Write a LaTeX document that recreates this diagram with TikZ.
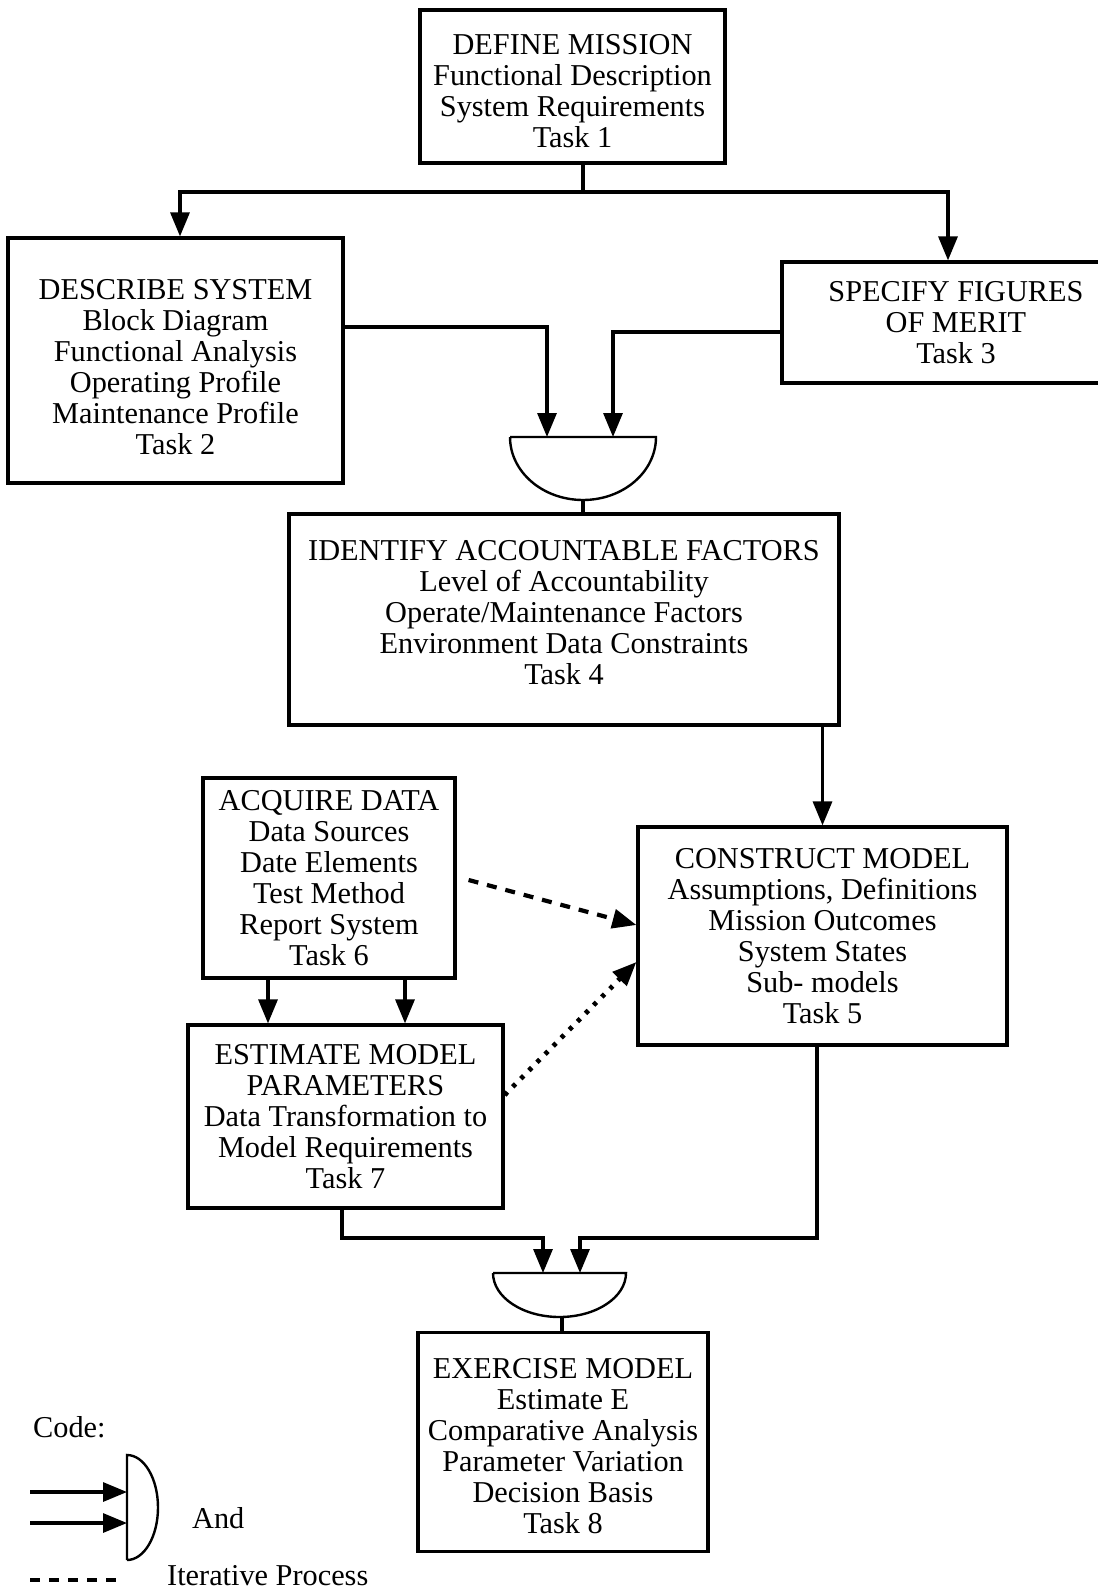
\documentclass[tikz,border=0pt]{standalone}
\usepackage{fontspec}
\setmainfont{Liberation Serif}
\usetikzlibrary{arrows.meta}
\newcommand\topstrut[1]{\rule{0pt}{#1}}
\newcommand\botstrut[1]{\rule[-#1]{0pt}{#1}}
\begin{document}
\begin{tikzpicture}[x=1pt,y=-1pt,
  box/.style={draw, line width=3.2pt, inner sep=0pt, align=center, font=\fontsize{30.3}{31}\selectfont},
  conn/.style={line width=3.2pt},
  tip/.style={-{Triangle[length=24pt,width=19pt]}},
  arr/.style={conn, tip},
  dashline/.style={line width=4.2pt, dash pattern=on 10pt off 9pt},
  dotline/.style={line width=4.8pt, dash pattern=on 4pt off 7.5pt},
  gate/.style={line width=2.4pt},
  lbl/.style={font=\fontsize{30.3}{31}\selectfont, inner sep=0pt}]
\useasboundingbox (0,0) rectangle (1097,1589);

% boxes
\node[box, minimum width=305pt, minimum height=153pt] (dm) at (572.5,86.5)
  {\topstrut{30pt}DEFINE MISSION\\Functional Description\\System Requirements\\Task 1};
\node[box, minimum width=335pt, minimum height=245pt] (ds) at (175.5,360.5)
  {\topstrut{33pt}DESCRIBE SYSTEM\\Block Diagram\\Functional Analysis\\Operating Profile\\Maintenance Profile\\Task 2};
\node[box, minimum width=348pt, minimum height=121pt] (sf) at (956,322.5)
  {SPECIFY FIGURES\\OF MERIT\\Task 3};
\node[box, minimum width=550pt, minimum height=211pt] (id) at (564,619.5)
  {IDENTIFY ACCOUNTABLE FACTORS\\Level of Accountability\\Operate/Maintenance Factors\\Environment Data Constraints\\Task 4\botstrut{15pt}};
\node[box, minimum width=252pt, minimum height=200pt] (ad) at (329,878)
  {ACQUIRE DATA\\Data Sources\\Date Elements\\Test Method\\Report System\\Task 6};
\node[box, minimum width=369pt, minimum height=218pt] (cm) at (822.5,936)
  {CONSTRUCT MODEL\\Assumptions, Definitions\\Mission Outcomes\\System States\\Sub- models\\Task 5};
\node[box, minimum width=315pt, minimum height=183pt] (em) at (345.5,1116.5)
  {ESTIMATE MODEL\\PARAMETERS\\Data Transformation to\\Model Requirements\\Task 7};
\node[box, minimum width=290pt, minimum height=219pt] (ex) at (563,1442)
  {\topstrut{28pt}EXERCISE MODEL\\Estimate E\\Comparative Analysis\\Parameter Variation\\Decision Basis\\Task 8};

% AND gates
\coordinate (g1l) at (547,437);
\coordinate (g1r) at (613,437);
\coordinate (g1b) at (583,500);
\draw[gate] (510,437) -- (656,437) arc[start angle=0, end angle=180, x radius=73, y radius=63];
\coordinate (g2l) at (543,1273);
\coordinate (g2r) at (580,1273);
\coordinate (g2b) at (562,1317);
\draw[gate] (493,1273) -- (626,1273) arc[start angle=0, end angle=180, x radius=66.5, y radius=44];

% connectors
\coordinate (j1) at (583,192);
\draw[conn] (dm.south -| j1) -- (j1);
\draw[arr] (j1) -| ([xshift=4.5pt]ds.north);
\draw[arr] (j1) -| ([xshift=-8pt]sf.north);
\draw[arr] ([yshift=33.5pt]ds.east) -| (g1l);
\draw[arr] ([yshift=-9.5pt]sf.west) -| (g1r);
\draw[conn] (g1b) -- (g1b |- id.north);
\draw[arr] (cm.north |- id.south) -- (cm.north);
\coordinate (a1) at ([xshift=-61pt]ad.south);
\coordinate (a2) at ([xshift=76pt]ad.south);
\draw[arr] (a1) -- (a1 |- em.north);
\draw[arr] (a2) -- (a2 |- em.north);
\draw[dashline, tip] ([xshift=12pt,yshift=-2pt]ad.east) -- ([yshift=11pt]cm.west);
\draw[dotline, tip] ([yshift=21.5pt]em.east) -- ([yshift=-26pt]cm.west);
\draw[arr] ([xshift=-3.5pt]em.south) |- ([yshift=35pt]g2l) -- (g2l);
\draw[arr] ([xshift=-5.5pt]cm.south) |- ([yshift=35pt]g2r) -- (g2r);
\draw[conn] (g2b) -- (g2b |- ex.north);

% legend
\node[lbl, anchor=base west] (code) at (33,1437) {Code:};
\draw[gate] (127,1560) -- (127,1455) arc[start angle=-90, end angle=90, x radius=31, y radius=52.5];
\coordinate (ls1) at (30,1492);
\coordinate (le1) at (127,1492);
\coordinate (ls2) at (30,1523);
\coordinate (le2) at (127,1523);
\draw[arr] (ls1) -- (le1);
\draw[arr] (ls2) -- (le2);
\node[lbl, anchor=base west] (and) at (192,1528) {And};
\coordinate (d1) at (30,1580);
\coordinate (d2) at (122,1580);
\draw[dashline] (d1) -- (d2);
\node[lbl, anchor=base west] (iter) at (167,1585) {Iterative Process};
\end{tikzpicture}
\end{document}
